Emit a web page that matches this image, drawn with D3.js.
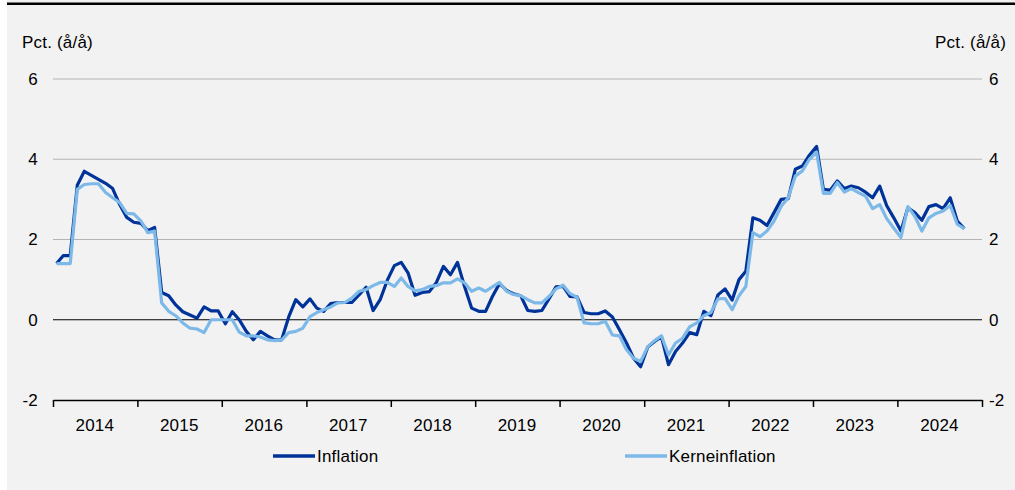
<!DOCTYPE html>
<meta charset="utf-8">
<script src="https://d3js.org/d3.v7.min.js"></script>
<style>
  body { margin: 0; background: #fff; }
  text { font-family: Arial, "Liberation Sans", sans-serif; font-size: 17px; letter-spacing: 0.2px; fill: #000; }
</style>
<div id="my_dataviz"></div>
<script>

// monthly values, Jan 2014 .. Oct 2024
var startMonth = "2014-01";
var inflation = [
  1.4, 1.6, 1.6, 3.35, 3.7, 3.6, 3.5, 3.4, 3.27, 2.87, 2.55, 2.43,
  2.4, 2.22, 2.3, 0.68, 0.6, 0.37, 0.2, 0.12, 0.04, 0.32, 0.22, 0.22,
  -0.1, 0.2, 0.0, -0.29, -0.5, -0.29, -0.4, -0.5, -0.5, 0.07, 0.5, 0.32,
  0.52, 0.29, 0.21, 0.4, 0.43, 0.43, 0.43, 0.62, 0.81, 0.23, 0.5, 0.98,
  1.35, 1.43, 1.17, 0.61, 0.68, 0.7, 0.92, 1.33, 1.12, 1.43, 0.83, 0.29,
  0.21, 0.21, 0.58, 0.9, 0.73, 0.65, 0.6, 0.23, 0.21, 0.23, 0.52, 0.82,
  0.83, 0.58, 0.57, 0.18, 0.15, 0.15, 0.22, 0.07, -0.25, -0.58, -0.96, -1.17,
  -0.68, -0.54, -0.42, -1.12, -0.79, -0.58, -0.32, -0.37, 0.21, 0.1, 0.62, 0.77,
  0.49, 1.0, 1.21, 2.54, 2.48, 2.35, 2.67, 3.0, 3.02, 3.75, 3.83, 4.1,
  4.32, 3.25, 3.23, 3.46, 3.27, 3.33, 3.29, 3.18, 3.04, 3.33, 2.84, 2.54,
  2.21, 2.79, 2.67, 2.48, 2.82, 2.87, 2.77, 3.04, 2.46, 2.27
];
var kerneinflation = [
  1.4, 1.4, 1.4, 3.25, 3.37, 3.39, 3.39, 3.17, 3.04, 2.92, 2.65, 2.64,
  2.46, 2.17, 2.21, 0.42, 0.21, 0.1, -0.08, -0.21, -0.23, -0.32, 0.0, 0.0,
  0.0, 0.0, -0.31, -0.4, -0.4, -0.43, -0.5, -0.52, -0.5, -0.32, -0.29, -0.21,
  0.08, 0.18, 0.25, 0.32, 0.42, 0.43, 0.54, 0.71, 0.75, 0.85, 0.93, 0.93,
  0.83, 1.04, 0.83, 0.72, 0.75, 0.83, 0.85, 0.92, 0.92, 1.02, 0.92, 0.71,
  0.79, 0.71, 0.82, 0.93, 0.71, 0.63, 0.6, 0.5, 0.42, 0.42, 0.58, 0.77,
  0.86, 0.65, 0.56, -0.08, -0.1, -0.1, -0.04, -0.38, -0.4, -0.75, -0.96, -1.04,
  -0.67, -0.52, -0.4, -0.88, -0.58, -0.46, -0.18, -0.08, 0.1, 0.18, 0.52, 0.53,
  0.25, 0.6, 0.83, 2.17, 2.07, 2.21, 2.46, 2.83, 3.04, 3.58, 3.71, 4.0,
  4.18, 3.15, 3.15, 3.42, 3.18, 3.27, 3.17, 3.08, 2.77, 2.87, 2.52, 2.28,
  2.05, 2.82, 2.58, 2.21, 2.54, 2.65, 2.71, 2.85, 2.38, 2.27
];
var years = [2014, 2015, 2016, 2017, 2018, 2019, 2020, 2021, 2022, 2023, 2024];
var yTicks = [-2, 0, 2, 4, 6];
var seriesNames = ["Inflation", "Kerneinflation"];
var seriesColors = ["#003399", "#7db9e8"];

var width = 1015, height = 490;

var svg = d3.select("#my_dataviz")
  .append("svg")
    .attr("width", width)
    .attr("height", height);

// panel background + top rule
svg.append("rect")
  .attr("x", 7).attr("y", 0)
  .attr("width", width - 7).attr("height", height)
  .attr("fill", "#f2f2f2");
svg.append("line")
  .attr("x1", 7).attr("x2", width)
  .attr("y1", 3.7).attr("y2", 3.7)
  .attr("stroke", "#000").attr("stroke-width", 2.4);

var parseMonth = d3.timeParse("%Y-%m");
var t0 = parseMonth(startMonth);

// x: time, each month point sits in the middle of its month
var x = d3.scaleTime()
  .domain([new Date(years[0], 0, 1), new Date(years[years.length - 1] + 1, 0, 1)])
  .range([53, 982]);

var y = d3.scaleLinear()
  .domain([-2, 6])
  .range([400, 79]);

function monthMid(i) {
  var a = d3.timeMonth.offset(t0, i), b = d3.timeMonth.offset(t0, i + 1);
  return new Date((a.getTime() + b.getTime()) / 2);
}

// gridlines
svg.append("g")
  .selectAll("line")
  .data(yTicks.filter(function(d) { return d > 0; }))
  .enter()
  .append("line")
    .attr("x1", x.range()[0]).attr("x2", x.range()[1])
    .attr("y1", function(d) { return y(d); })
    .attr("y2", function(d) { return y(d); })
    .attr("stroke", "#b4b4b4")
    .attr("stroke-width", 1.2);

// zero line
svg.append("line")
  .attr("x1", x.range()[0]).attr("x2", x.range()[1])
  .attr("y1", y(0)).attr("y2", y(0))
  .attr("stroke", "#000").attr("stroke-width", 1.2);

// y labels, both sides
svg.append("g")
  .selectAll("text")
  .data(yTicks)
  .enter()
  .append("text")
    .attr("x", 38)
    .attr("y", function(d) { return y(d); })
    .attr("dy", "0.35em")
    .attr("text-anchor", "end")
    .text(function(d) { return d; });
svg.append("g")
  .selectAll("text")
  .data(yTicks)
  .enter()
  .append("text")
    .attr("x", 989)
    .attr("y", function(d) { return y(d); })
    .attr("dy", "0.35em")
    .attr("text-anchor", "start")
    .text(function(d) { return d; });

svg.append("text").attr("x", 22).attr("y", 48).text("Pct. (å/å)");
svg.append("text").attr("x", 1006).attr("y", 48).attr("text-anchor", "end").text("Pct. (å/å)");

// x axis at the bottom (-2 level)
var yearStarts = years.map(function(d) { return new Date(d, 0, 1); })
  .concat([new Date(years[years.length - 1] + 1, 0, 1)]);
var xAxis = svg.append("g")
  .attr("transform", "translate(0," + y(-2) + ")")
  .call(d3.axisBottom(x)
    .tickValues(yearStarts)
    .tickSize(7)
    .tickSizeOuter(0)
    .tickFormat(""));
xAxis.select(".domain").attr("stroke", "#000").attr("stroke-width", 1.5);
xAxis.selectAll(".tick line").attr("stroke", "#000").attr("stroke-width", 1.5);

svg.append("g")
  .selectAll("text")
  .data(years)
  .enter()
  .append("text")
    .attr("x", function(d) { return x(new Date(d, 6, 1)); })
    .attr("y", 431)
    .attr("text-anchor", "middle")
    .text(function(d) { return d; });

// lines
var line = d3.line()
  .x(function(d, i) { return x(monthMid(i)); })
  .y(function(d) { return y(d); });

[inflation, kerneinflation].forEach(function(s, k) {
  svg.append("path")
    .datum(s)
    .attr("fill", "none")
    .attr("stroke", seriesColors[k])
    .attr("stroke-width", 3.2)
    .attr("stroke-linejoin", "round")
    .attr("d", line);
});

// legend
var legendX = [273, 625];
var legend = svg.append("g")
  .selectAll("g")
  .data(seriesNames)
  .enter()
  .append("g");
legend.append("line")
  .attr("x1", function(d, i) { return legendX[i]; })
  .attr("x2", function(d, i) { return legendX[i] + 42; })
  .attr("y1", 456).attr("y2", 456)
  .attr("stroke", function(d, i) { return seriesColors[i]; })
  .attr("stroke-width", 3.5);
legend.append("text")
  .attr("x", function(d, i) { return legendX[i] + 44; })
  .attr("y", 462)
  .text(function(d) { return d; });

</script>
